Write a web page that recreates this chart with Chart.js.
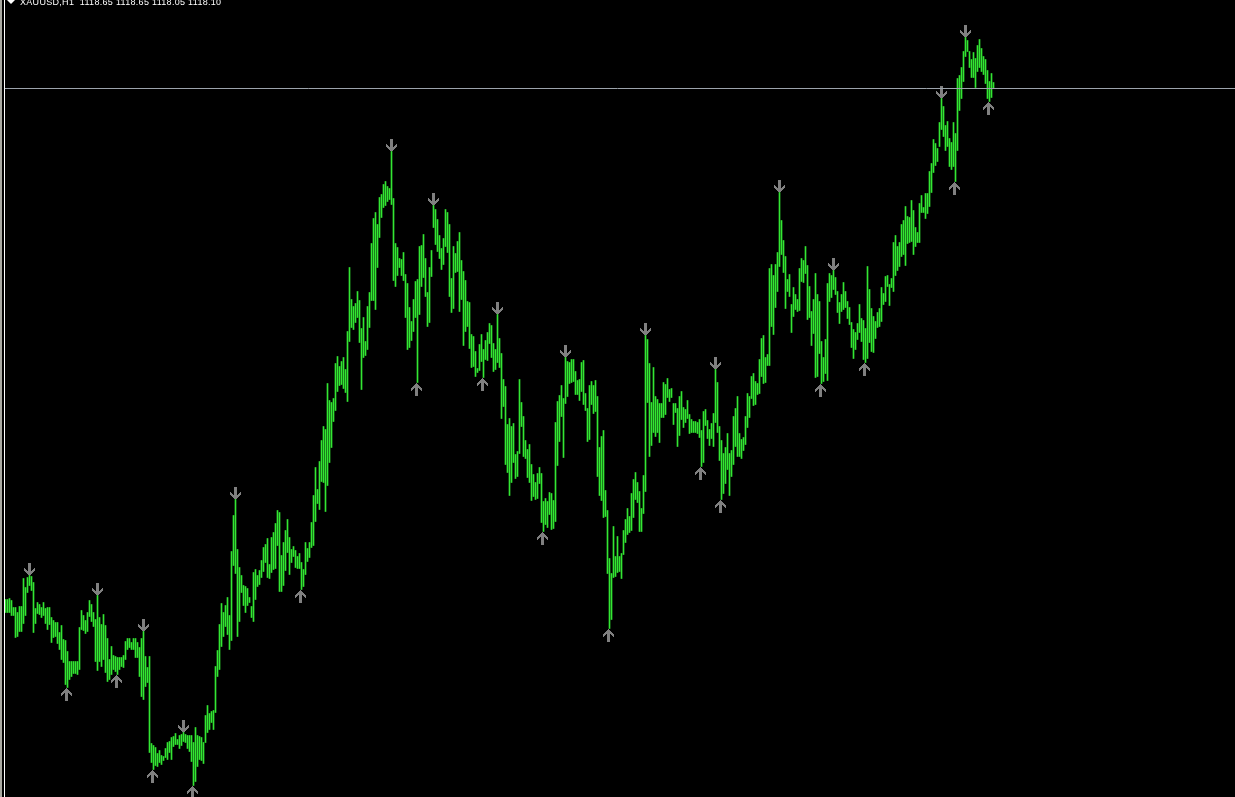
<!DOCTYPE html>
<html>
<head>
<meta charset="utf-8">
<script src="https://cdn.jsdelivr.net/npm/chart.js@4.4.1/dist/chart.umd.min.js"></script>
<style>
  html, body { margin: 0; padding: 0; background: #000; overflow: hidden; }
  #wrap { position: relative; width: 1235px; height: 797px; background: #000; }
  #chart { position: absolute; left: 0; top: 0; }
  #frame0 { position: absolute; left: 0; top: 0; width: 4px; height: 797px; background: #000; }
  #frame1 { position: absolute; left: 0; top: 0; width: 2px; height: 797px; background: #a8a8a0; }
  #frame2 { position: absolute; left: 4px; top: 0; width: 1px; height: 797px; background: #fff; }
  #tri { position: absolute; left: 7px; top: 0; width: 0; height: 0;
         border-left: 4px solid transparent; border-right: 4px solid transparent; border-top: 4px solid #fff; }
  #title { position: absolute; left: 20px; top: -3px; color: #fff; letter-spacing: 0.3px;
           font: 9px "Liberation Sans", Arial, sans-serif; white-space: pre; }
</style>
</head>
<body>
<div id="wrap">
  <canvas id="chart" width="1235" height="797"></canvas>
  <div id="frame0"></div>
  <div id="frame1"></div>
  <div id="frame2"></div>
  <div id="tri"></div>
  <div id="title"></div>
</div>
<script>
// header of the chart window
var symbol = "XAUUSD";
var period = "H1";
var lastBar = [1118.65, 1118.65, 1118.05, 1118.10]; // O H L C
var bidPrice = 1118.10;

// H1 bars, high / low
var highs = [
  1067.0, 1067.0, 1067.1, 1066.9, 1066.2, 1066.2, 1065.7, 1066.3, 1066.3, 1069.1,
  1068.2, 1069.2, 1069.4, 1069.3, 1068.7, 1066.1, 1066.7, 1066.5, 1066.2, 1066.7,
  1066.1, 1066.2, 1066.2, 1065.2, 1064.9, 1064.7, 1064.7, 1063.7, 1064.4, 1063.0,
  1062.9, 1061.8, 1060.8, 1060.8, 1060.8, 1060.8, 1060.8, 1064.2, 1065.9, 1065.4,
  1064.9, 1065.7, 1066.9, 1066.5, 1065.7, 1065.0, 1067.4, 1065.2, 1064.5, 1065.5,
  1064.4, 1063.1, 1061.0, 1062.3, 1061.4, 1061.3, 1061.2, 1061.2, 1061.2, 1061.4,
  1062.8, 1063.1, 1063.1, 1062.7, 1063.1, 1063.1, 1062.7, 1062.2, 1063.1, 1063.8,
  1061.3, 1060.2, 1061.3, 1052.6, 1052.4, 1052.2, 1051.6, 1051.9, 1051.4, 1051.3,
  1052.1, 1052.7, 1052.8, 1053.2, 1053.3, 1053.6, 1053.0, 1053.4, 1053.5, 1053.7,
  1053.5, 1053.4, 1053.4, 1053.4, 1052.7, 1054.2, 1053.4, 1053.3, 1053.2, 1052.7,
  1055.4, 1056.4, 1055.6, 1055.8, 1055.9, 1060.3, 1061.9, 1064.5, 1066.6, 1065.7,
  1066.4, 1067.2, 1065.4, 1071.8, 1075.4, 1077.0, 1072.0, 1070.2, 1069.4, 1068.4,
  1068.3, 1068.1, 1067.2, 1066.3, 1069.7, 1070.0, 1069.4, 1069.9, 1070.9, 1072.2,
  1072.5, 1073.1, 1070.5, 1073.2, 1073.7, 1074.6, 1075.9, 1075.7, 1071.4, 1072.7,
  1073.9, 1075.0, 1073.2, 1072.0, 1072.3, 1071.9, 1071.3, 1071.6, 1070.7, 1070.0,
  1072.7, 1072.1, 1072.7, 1074.7, 1077.4, 1080.2, 1078.0, 1080.8, 1082.9, 1084.3,
  1084.0, 1088.6, 1086.9, 1086.7, 1087.1, 1090.6, 1091.3, 1090.3, 1090.8, 1091.2,
  1090.0, 1093.8, 1100.2, 1097.0, 1096.3, 1096.6, 1097.8, 1096.9, 1094.1, 1095.2,
  1092.8, 1096.3, 1097.7, 1102.6, 1105.1, 1105.7, 1104.5, 1107.2, 1107.5, 1108.5,
  1108.8, 1108.3, 1108.1, 1111.8, 1107.1, 1102.6, 1102.2, 1101.1, 1101.0, 1101.7,
  1099.5, 1098.6, 1096.2, 1094.8, 1097.0, 1098.8, 1099.0, 1102.3, 1102.4, 1103.5,
  1101.1, 1097.7, 1100.2, 1101.9, 1106.4, 1106.0, 1105.0, 1103.4, 1102.1, 1103.1,
  1106.0, 1105.7, 1104.5, 1099.1, 1102.3, 1101.6, 1102.8, 1103.7, 1100.9, 1099.8,
  1098.9, 1096.8, 1096.7, 1093.5, 1093.3, 1091.8, 1090.1, 1092.5, 1093.5, 1092.0,
  1092.9, 1093.7, 1094.6, 1094.4, 1092.6, 1092.0, 1095.5, 1093.1, 1091.6, 1089.0,
  1088.3, 1084.5, 1085.1, 1084.3, 1084.6, 1081.5, 1081.8, 1089.0, 1086.7, 1085.3,
  1082.9, 1082.0, 1082.5, 1080.5, 1079.5, 1078.7, 1079.6, 1080.2, 1079.6, 1076.8,
  1077.1, 1076.8, 1077.7, 1077.6, 1076.9, 1084.7, 1086.8, 1087.4, 1088.4, 1087.1,
  1091.2, 1090.8, 1090.7, 1091.0, 1091.0, 1089.8, 1088.9, 1089.0, 1090.7, 1090.9,
  1087.6, 1086.1, 1088.4, 1088.8, 1088.4, 1088.9, 1087.3, 1082.2, 1083.3, 1083.9,
  1077.9, 1075.9, 1071.1, 1069.6, 1074.3, 1071.3, 1073.3, 1071.3, 1071.6, 1073.9,
  1075.0, 1076.1, 1075.3, 1077.6, 1079.0, 1079.7, 1078.7, 1077.8, 1076.1, 1079.4,
  1093.4, 1093.0, 1090.6, 1086.7, 1090.2, 1087.3, 1087.0, 1086.6, 1086.6, 1088.7,
  1088.5, 1089.1, 1088.0, 1088.1, 1086.6, 1086.6, 1086.1, 1087.3, 1087.8, 1086.2,
  1086.0, 1086.9, 1085.5, 1085.0, 1084.8, 1084.8, 1084.7, 1085.0, 1083.9, 1085.8,
  1086.0, 1084.9, 1084.0, 1084.6, 1085.6, 1090.0, 1088.7, 1084.3, 1082.9, 1081.6,
  1082.2, 1083.6, 1081.6, 1081.9, 1085.3, 1086.1, 1087.3, 1083.6, 1083.0, 1083.2,
  1085.3, 1087.6, 1087.3, 1089.3, 1089.6, 1088.8, 1088.6, 1091.0, 1093.1, 1093.4,
  1091.2, 1091.5, 1100.1, 1100.5, 1099.4, 1100.5, 1101.7, 1107.7, 1104.9, 1102.9,
  1101.3, 1099.0, 1099.5, 1096.5, 1098.2, 1097.5, 1097.0, 1100.1, 1101.1, 1100.9,
  1102.3, 1100.4, 1098.3, 1095.8, 1097.0, 1099.6, 1097.5, 1096.8, 1092.8, 1091.2,
  1093.0, 1098.6, 1099.6, 1099.4, 1099.9, 1099.2, 1097.8, 1096.7, 1097.5, 1098.7,
  1097.8, 1096.8, 1096.2, 1094.7, 1094.0, 1093.7, 1094.6, 1096.5, 1095.1, 1094.9,
  1094.1, 1100.3, 1098.0, 1096.1, 1095.3, 1094.8, 1095.7, 1096.1, 1098.2, 1097.6,
  1099.3, 1099.4, 1098.5, 1099.1, 1102.7, 1103.4, 1102.3, 1102.7, 1104.5, 1104.9,
  1106.3, 1105.3, 1105.2, 1106.9, 1105.9, 1104.2, 1103.7, 1106.6, 1107.4, 1106.2,
  1107.6, 1107.6, 1109.8, 1110.6, 1113.0, 1112.6, 1112.1, 1114.7, 1117.1, 1116.3,
  1114.4, 1114.8, 1113.1, 1112.7, 1114.7, 1113.6, 1119.1, 1119.4, 1120.2, 1121.8,
  1123.2, 1122.9, 1121.8, 1121.0, 1121.7, 1121.1, 1122.4, 1123.0, 1122.1, 1121.3,
  1121.0, 1119.9, 1118.8, 1119.6, 1118.7
];

var lows = [
  1065.7, 1065.7, 1065.7, 1065.4, 1065.4, 1063.2, 1063.3, 1063.8, 1063.8, 1064.6,
  1065.4, 1067.7, 1068.4, 1067.9, 1063.7, 1064.6, 1065.6, 1065.5, 1065.2, 1065.4,
  1064.6, 1064.0, 1064.5, 1062.7, 1063.2, 1063.3, 1062.6, 1062.0, 1061.0, 1060.7,
  1058.5, 1058.2, 1059.0, 1059.3, 1059.6, 1059.6, 1059.5, 1060.0, 1064.0, 1063.9,
  1063.6, 1063.8, 1065.3, 1064.8, 1064.3, 1060.8, 1059.9, 1060.8, 1060.3, 1061.0,
  1059.7, 1058.8, 1059.0, 1059.5, 1060.0, 1059.8, 1059.5, 1060.0, 1060.3, 1060.2,
  1061.0, 1062.0, 1062.2, 1062.0, 1062.0, 1061.2, 1061.2, 1059.3, 1057.3, 1057.0,
  1058.3, 1058.7, 1051.7, 1050.7, 1050.0, 1050.4, 1050.3, 1050.7, 1050.5, 1050.9,
  1051.2, 1051.0, 1051.7, 1051.0, 1052.3, 1052.5, 1052.5, 1052.1, 1052.4, 1052.8,
  1052.7, 1052.1, 1051.8, 1050.8, 1048.4, 1048.8, 1050.3, 1051.0, 1050.9, 1050.6,
  1052.7, 1053.7, 1054.0, 1054.7, 1054.0, 1055.7, 1059.3, 1060.0, 1062.3, 1063.3,
  1064.3, 1063.5, 1062.0, 1062.9, 1070.4, 1069.6, 1063.3, 1064.8, 1067.7, 1066.4,
  1065.7, 1066.4, 1066.7, 1065.2, 1064.8, 1067.0, 1068.3, 1068.5, 1069.2, 1069.8,
  1070.7, 1069.2, 1069.1, 1069.7, 1070.0, 1070.1, 1072.4, 1067.8, 1067.8, 1068.4,
  1069.9, 1071.7, 1069.5, 1070.7, 1071.3, 1070.2, 1070.1, 1070.1, 1068.0, 1068.3,
  1069.5, 1070.8, 1071.2, 1072.2, 1072.4, 1074.8, 1076.6, 1076.0, 1078.8, 1078.7,
  1075.8, 1078.4, 1080.7, 1082.2, 1084.8, 1085.9, 1087.8, 1088.4, 1088.5, 1088.1,
  1087.7, 1086.8, 1092.8, 1094.2, 1094.0, 1094.7, 1095.2, 1092.7, 1088.0, 1091.2,
  1091.4, 1092.0, 1094.2, 1096.9, 1096.9, 1096.0, 1100.2, 1103.2, 1105.2, 1106.2,
  1106.4, 1106.8, 1107.0, 1106.5, 1098.9, 1098.3, 1099.4, 1100.2, 1099.4, 1098.9,
  1095.2, 1092.0, 1092.2, 1092.9, 1093.8, 1095.2, 1088.7, 1095.5, 1098.3, 1099.2,
  1097.3, 1094.3, 1094.7, 1099.3, 1104.2, 1102.5, 1101.8, 1101.1, 1100.0, 1100.5,
  1102.3, 1101.7, 1097.3, 1095.7, 1096.1, 1099.7, 1099.8, 1095.8, 1097.0, 1092.4,
  1093.8, 1094.3, 1092.1, 1090.2, 1090.3, 1089.3, 1089.7, 1089.9, 1090.8, 1089.2,
  1091.0, 1090.9, 1092.6, 1091.2, 1089.8, 1090.0, 1090.7, 1090.2, 1085.1, 1086.3,
  1080.5, 1079.7, 1077.4, 1078.7, 1080.7, 1079.1, 1079.3, 1081.6, 1084.3, 1081.3,
  1081.1, 1079.2, 1078.7, 1076.9, 1077.3, 1077.0, 1077.1, 1078.6, 1074.7, 1073.8,
  1074.5, 1074.2, 1075.5, 1074.0, 1074.1, 1074.8, 1080.4, 1082.8, 1085.3, 1081.2,
  1086.6, 1087.3, 1088.6, 1088.7, 1088.8, 1087.5, 1087.5, 1086.9, 1087.8, 1086.5,
  1085.9, 1082.8, 1083.0, 1086.5, 1085.6, 1085.8, 1079.3, 1077.4, 1076.9, 1075.2,
  1075.3, 1069.6, 1064.1, 1065.0, 1069.2, 1069.3, 1069.7, 1069.8, 1069.1, 1071.5,
  1072.7, 1073.5, 1073.7, 1073.9, 1075.2, 1077.0, 1076.7, 1073.8, 1073.8, 1075.6,
  1077.8, 1086.7, 1081.3, 1082.4, 1083.7, 1083.3, 1083.7, 1082.7, 1085.2, 1085.2,
  1085.5, 1087.2, 1086.8, 1087.2, 1084.5, 1085.7, 1082.3, 1083.4, 1085.0, 1084.2,
  1084.7, 1085.1, 1083.6, 1083.7, 1083.7, 1083.7, 1083.6, 1083.2, 1080.3, 1080.7,
  1084.4, 1083.1, 1082.4, 1083.1, 1082.3, 1084.7, 1083.7, 1080.9, 1077.0, 1077.6,
  1078.6, 1080.0, 1077.4, 1079.3, 1080.5, 1082.3, 1081.3, 1081.3, 1081.1, 1081.9,
  1082.5, 1084.2, 1085.2, 1087.1, 1086.4, 1086.5, 1087.5, 1087.6, 1089.3, 1088.6,
  1088.7, 1090.4, 1090.4, 1094.3, 1093.5, 1096.2, 1097.8, 1100.3, 1101.5, 1099.7,
  1096.1, 1097.8, 1097.3, 1093.7, 1095.3, 1096.0, 1095.8, 1095.9, 1098.8, 1098.7,
  1099.6, 1095.0, 1095.2, 1092.4, 1093.6, 1089.2, 1089.3, 1091.6, 1088.6, 1088.8,
  1089.6, 1088.9, 1096.8, 1097.2, 1098.0, 1097.5, 1095.7, 1094.6, 1095.8, 1096.0,
  1096.2, 1095.1, 1094.5, 1092.2, 1091.1, 1092.0, 1093.0, 1093.7, 1092.8, 1091.0,
  1090.7, 1091.1, 1092.7, 1091.8, 1091.7, 1093.1, 1094.2, 1094.3, 1094.8, 1096.5,
  1096.8, 1098.3, 1096.4, 1098.2, 1097.8, 1099.4, 1099.9, 1100.3, 1101.3, 1101.5,
  1100.4, 1102.6, 1102.7, 1102.8, 1101.5, 1102.3, 1102.7, 1102.7, 1105.7, 1105.7,
  1105.1, 1105.6, 1106.3, 1107.7, 1109.7, 1110.4, 1110.8, 1112.3, 1114.0, 1113.3,
  1111.9, 1112.3, 1110.3, 1110.0, 1110.3, 1108.8, 1111.9, 1115.9, 1117.1, 1118.8,
  1121.3, 1121.8, 1120.2, 1119.2, 1119.2, 1118.2, 1119.8, 1120.2, 1119.8, 1119.5,
  1118.6, 1117.1, 1116.8, 1117.2, 1118.1
];

// bars that carry a fractal arrow
var fractalHighs = [12, 46, 69, 89, 115, 193, 214, 246, 280, 320, 355, 387, 414, 468, 480];
var fractalLows = [31, 56, 74, 94, 148, 206, 239, 269, 302, 348, 358, 408, 430, 475, 492];

var barColor = "#33e633";
var arrowColor = "#808080";
var bidColor = "#9ca3ab";

document.getElementById("title").textContent =
    symbol + "," + period + "  " + lastBar.map(function(v) { return v.toFixed(2); }).join(" ");

// little pixel arrow, drawn so the tip sits on the middle of the image
var arrowRows = [
    "....###....",
    "....###....",
    "....###....",
    "....###....",
    "....###....",
    "#...###...#",
    "##..###..##",
    "###.###.###",
    ".#########.",
    "..#######..",
    "...#####...",
    "....###....",
    ".....#....."
];

function makeArrow(up) {
    var c = document.createElement("canvas");
    c.width = up ? 13 : 11;
    c.height = 26;
    var g = c.getContext("2d");
    g.fillStyle = arrowColor;
    arrowRows.forEach(function(row, r) {
        var y = up ? 25 - r : r;
        for (var k = 0; k < row.length; k++) {
            if (row[k] === "#") g.fillRect(k, y, 1, 1);
        }
    });
    return c;
}

// 2 px per bar, first bar on pixel column 5
var xMin = -2.75, xMax = 614.75;
var yMax = 1126.95, yMin = 1047.25;

var barData = highs.map(function(h, i) { return { x: i, y: [lows[i], h] }; });
var upData = fractalHighs.map(function(i) { return { x: i, y: highs[i] }; });
var downData = fractalLows.map(function(i) { return { x: i, y: lows[i] }; });

var pixelPlugin = {
    id: "pixels",
    beforeDatasetsDraw: function(chart) { chart.ctx.imageSmoothingEnabled = false; }
};

var ctx = document.getElementById("chart").getContext("2d");
new Chart(ctx, {
    type: "bar",
    data: {
        datasets: [
            {
                type: "line",
                data: [{ x: xMin, y: bidPrice }, { x: xMax, y: bidPrice }],
                borderColor: bidColor,
                borderWidth: 1,
                pointRadius: 0
            },
            {
                type: "bar",
                data: barData,
                backgroundColor: barColor,
                borderWidth: 0,
                barThickness: 1
            },
            {
                type: "scatter",
                data: upData,
                pointStyle: makeArrow(false),
                pointRadius: 6,
                pointHoverRadius: 6
            },
            {
                type: "scatter",
                data: downData,
                pointStyle: makeArrow(true),
                pointRadius: 6,
                pointHoverRadius: 6
            }
        ]
    },
    options: {
        responsive: false,
        animation: false,
        events: [],
        layout: { padding: 0, autoPadding: false },
        plugins: { legend: { display: false }, tooltip: { enabled: false } },
        scales: {
            x: { type: "linear", min: xMin, max: xMax, offset: false, bounds: "data", display: false },
            y: { type: "linear", min: yMin, max: yMax, bounds: "data", display: false }
        }
    },
    plugins: [pixelPlugin]
});
</script>
</body>
</html>
